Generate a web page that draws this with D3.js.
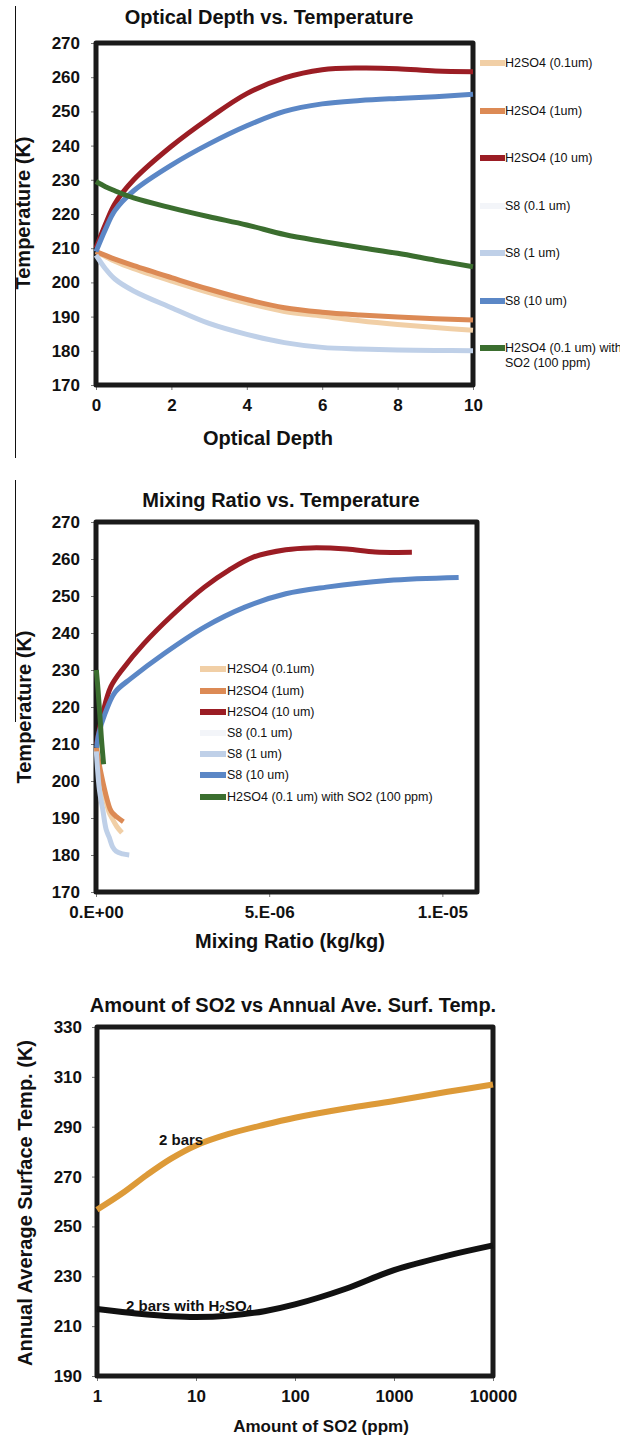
<!DOCTYPE html>
<html>
<head>
<meta charset="utf-8">
<script src="https://cdn.jsdelivr.net/npm/d3@7"></script>
<style>
body { margin: 0; background: #fff; }
svg text { font-family: "Liberation Sans", Arial, sans-serif; fill: #111; }
</style>
</head>
<body>
<svg id="chart" width="640" height="1438"></svg>
<script>
// series shared by the first two panels
var seriesNames = ['H2SO4 (0.1um)', 'H2SO4 (1um)', 'H2SO4 (10 um)', 'S8 (0.1 um)',
                   'S8 (1 um)', 'S8 (10 um)', 'H2SO4 (0.1 um) with SO2 (100 ppm)'];
var seriesColors = ['#f1cfa6', '#dc8a55', '#9b1d24', '#f3f5f9', '#bfd0e8', '#5b87c6', '#3b6e2f'];

// panel 1: optical depth vs temperature
var depth = [0, 0.25, 0.5, 1, 2, 3, 4, 5, 6, 7, 8, 9, 10];
var depthH2so4Small = [209, 207.6, 206.2, 204, 200.4, 197, 194, 191.5, 190.2, 188.8, 187.7, 186.8, 186];
var depthH2so4Mid = [209, 207.9, 206.8, 204.9, 201.4, 198, 195, 192.6, 191.3, 190.5, 189.9, 189.4, 189];
var depthH2so4Large = [210, 217, 223, 230, 239.8, 248, 255.2, 259.8, 262.2, 262.7, 262.5, 261.8, 261.6];
var depthS8Small = [];
var depthS8Mid = [208, 204, 201, 197.5, 192.6, 188, 184.8, 182.4, 181, 180.5, 180.2, 180.1, 180];
var depthS8Large = [209, 215.5, 221, 226.8, 234.3, 240.5, 245.8, 250, 252.2, 253.2, 253.8, 254.3, 255];
var depthSo2 = [229.5, 228, 226.8, 224.7, 221.8, 219.2, 216.8, 214, 212, 210.2, 208.5, 206.5, 204.6];
var depthTicks = [0, 2, 4, 6, 8, 10];
var tempTicks = [170, 180, 190, 200, 210, 220, 230, 240, 250, 260, 270];

// panel 2: mixing ratio vs temperature (kg/kg)
var mixH2so4SmallX = [1e-8, 7.5e-8, 1.5e-7, 2.3e-7, 3e-7, 3.8e-7, 4.5e-7, 6e-7, 7.5e-7];
var mixH2so4SmallT = [209, 204.3, 200.4, 197, 194, 191.5, 190.2, 187.7, 186];
var mixH2so4MidX = [1e-8, 8e-8, 1.6e-7, 2.4e-7, 3.2e-7, 4e-7, 4.8e-7, 6e-7, 7.9e-7];
var mixH2so4MidT = [209, 205.2, 201.4, 198, 195, 192.6, 191.3, 190.3, 189];
var mixH2so4LargeX = [2e-8, 2e-7, 4.3e-7, 7.9e-7, 1.37e-6, 2.2e-6, 3.13e-6, 3.84e-6, 4.54e-6, 5.48e-6, 6.2e-6, 7.24e-6, 8.06e-6, 9.12e-6];
var mixH2so4LargeT = [210, 218.5, 225.5, 230.5, 237, 244.8, 252.4, 257, 260.5, 262.5, 263, 262.7, 261.9, 261.8];
var mixS8SmallX = [];
var mixS8SmallT = [];
var mixS8MidX = [1e-8, 1e-7, 1.9e-7, 2.9e-7, 3.8e-7, 4.8e-7, 5.8e-7, 7.7e-7, 9.6e-7];
var mixS8MidT = [208, 197.5, 192.6, 187, 184.8, 182.2, 181, 180.3, 180];
var mixS8LargeX = [2e-8, 8e-8, 2.6e-7, 5.5e-7, 1.02e-6, 1.96e-6, 3.13e-6, 4.3e-6, 5.48e-6, 6.65e-6, 8.42e-6, 1.047e-5];
var mixS8LargeT = [209, 212.8, 218.2, 224, 227.8, 234.4, 241.6, 247, 250.6, 252.4, 254.2, 255];
var mixSo2X = [1e-8, 6e-8, 1.1e-7, 1.6e-7, 2.2e-7];
var mixSo2T = [230, 224.5, 218, 211, 204.5];
var mixTicks = [0, 5e-6, 1e-5];

// panel 3: SO2 amount vs annual average surface temperature
var so2Ppm = [1, 1.8, 3.2, 5.6, 10, 21, 49, 100, 326, 1000, 3470, 10000];
var surfTwoBar = [256.7, 263.3, 270.7, 277.2, 282.5, 287, 290.8, 293.6, 297.3, 300.3, 304, 306.9];
var surfTwoBarH2so4 = [216.9, 215.7, 214.7, 214, 213.7, 214.2, 216, 218.7, 225, 232.5, 238.3, 242.4];
var ppmTicks = [1, 10, 100, 1000, 10000];
var surfTicks = [190, 210, 230, 250, 270, 290, 310, 330];

var svg = d3.select('#chart');

// thin stray rule at the left edge of the scan
svg.append('line').attr('x1', 15.5).attr('x2', 15.5).attr('y1', 6).attr('y2', 458)
    .attr('stroke', '#111').attr('stroke-width', 1);
svg.append('line').attr('x1', 15.5).attr('x2', 15.5).attr('y1', 480).attr('y2', 722)
    .attr('stroke', '#111').attr('stroke-width', 1);

svg.append('clipPath').attr('id', 'legendClip')
    .append('rect').attr('x', 0).attr('y', 0).attr('width', 620).attr('height', 460);

function sciFormat(v) {
    if (v === 0) return '0.E+00';
    var e = Math.floor(Math.log10(v) + 1e-9);
    var m = Math.round(v / Math.pow(10, e));
    var a = Math.abs(e);
    return m + '.E' + (e < 0 ? '-' : '+') + (a < 10 ? '0' : '') + a;
}

function drawPanel(p) {
    var g = svg.append('g');

    g.append('text').attr('x', p.titleX).attr('y', p.titleY)
        .attr('text-anchor', 'middle').attr('font-size', 20).attr('font-weight', 'bold')
        .text(p.title);

    var yAxis = d3.axisLeft(p.y).tickValues(p.yTicks).tickSize(5).tickPadding(p.yPad || 11);
    var xAxis = d3.axisBottom(p.x).tickValues(p.xTicks).tickSize(5).tickPadding(9)
        .tickFormat(p.xFormat || d3.format('d'));

    var ya = g.append('g').attr('transform', 'translate(' + p.x.range()[0] + ',0)').call(yAxis);
    var xa = g.append('g').attr('transform', 'translate(0,' + p.y.range()[0] + ')').call(xAxis);
    [ya, xa].forEach(function(a) {
        a.select('.domain').remove();
        a.selectAll('line').attr('stroke', '#777');
        a.selectAll('text').attr('font-size', p.tickFont || 17).attr('font-weight', 'bold')
            .attr('fill', '#111').style('font-family', '"Liberation Sans", Arial, sans-serif');
    });

    g.append('text').attr('x', p.xTitleX).attr('y', p.xTitleY)
        .attr('text-anchor', 'middle').attr('font-size', p.xTitleFont || 20).attr('font-weight', 'bold')
        .text(p.xTitle);
    g.append('text')
        .attr('transform', 'translate(' + p.yTitleX + ',' + p.yTitleY + ') rotate(-90)')
        .attr('text-anchor', 'middle').attr('dy', '0.35em')
        .attr('font-size', 20).attr('font-weight', 'bold')
        .text(p.yTitle);

    var x0 = p.x.range()[0], x1 = p.x.range()[1];
    var y0 = p.y.range()[1], y1 = p.y.range()[0];
    g.append('rect').attr('x', x0).attr('y', y0)
        .attr('width', x1 - x0).attr('height', y1 - y0)
        .attr('fill', 'none').attr('stroke', '#1a1a1a').attr('stroke-width', 5)
        .attr('stroke-linejoin', 'round');

    return g;
}

function drawLines(g, x, y, series, width) {
    var line = d3.line()
        .x(function(d) { return x(d[0]); })
        .y(function(d) { return y(d[1]); })
        .curve(d3.curveCatmullRom.alpha(0.5));
    series.forEach(function(s) {
        if (!s.points.length) return;
        g.append('path').datum(s.points)
            .attr('d', line)
            .attr('fill', 'none')
            .attr('stroke', s.color)
            .attr('stroke-width', width);
    });
}

function zipPoints(xs, ys) {
    return xs.map(function(v, i) { return [v, ys[i]]; });
}

// ---- panel 1
var x1 = d3.scaleLinear().domain([0, 10]).range([96, 473]);
var y1 = d3.scaleLinear().domain([170, 270]).range([385, 43]);
var g1 = drawPanel({
    title: 'Optical Depth vs. Temperature', titleX: 269, titleY: 24,
    x: x1, y: y1, xTicks: depthTicks, yTicks: tempTicks,
    xTitle: 'Optical Depth', xTitleX: 268, xTitleY: 445,
    yTitle: 'Temperature (K)', yTitleX: 23, yTitleY: 213
});
var depthSeries = [depthH2so4Small, depthH2so4Mid, depthH2so4Large, depthS8Small,
                   depthS8Mid, depthS8Large, depthSo2];
drawLines(g1, x1, y1, depthSeries.map(function(t, i) {
    return {color: seriesColors[i], points: t.map(function(v, j) { return [depth[j], v]; })};
}), 5);

var legend1 = g1.append('g').attr('clip-path', 'url(#legendClip)');
var legend1Y = [63, 111, 158, 206, 253, 301, 348];
seriesNames.forEach(function(name, i) {
    var row = legend1.append('g').attr('transform', 'translate(480,' + legend1Y[i] + ')');
    row.append('line').attr('x1', 0).attr('x2', 25)
        .attr('stroke', seriesColors[i]).attr('stroke-width', 6);
    var t = row.append('text').attr('x', 25).attr('dy', '0.35em').attr('font-size', 12.5);
    if (i === 6) {
        t.append('tspan').attr('x', 25).text('H2SO4 (0.1 um) with');
        t.append('tspan').attr('x', 25).attr('dy', 14.5).text('SO2 (100 ppm)');
    } else {
        t.text(name);
    }
});

// ---- panel 2
var x2 = d3.scaleLinear().domain([0, 1.1e-5]).range([96, 477]);
var y2 = d3.scaleLinear().domain([170, 270]).range([892, 522]);
var g2 = drawPanel({
    title: 'Mixing Ratio vs. Temperature', titleX: 281, titleY: 507,
    x: x2, y: y2, xTicks: mixTicks, yTicks: tempTicks, xFormat: sciFormat,
    xTitle: 'Mixing Ratio (kg/kg)', xTitleX: 290, xTitleY: 948,
    yTitle: 'Temperature (K)', yTitleX: 24, yTitleY: 707
});
var mixSeries = [
    zipPoints(mixH2so4SmallX, mixH2so4SmallT),
    zipPoints(mixH2so4MidX, mixH2so4MidT),
    zipPoints(mixH2so4LargeX, mixH2so4LargeT),
    zipPoints(mixS8SmallX, mixS8SmallT),
    zipPoints(mixS8MidX, mixS8MidT),
    zipPoints(mixS8LargeX, mixS8LargeT),
    zipPoints(mixSo2X, mixSo2T)
];
drawLines(g2, x2, y2, mixSeries.map(function(pts, i) {
    return {color: seriesColors[i], points: pts};
}), 5);

var legend2Y = [669, 691, 712, 733, 754, 775, 797];
seriesNames.forEach(function(name, i) {
    var row = g2.append('g').attr('transform', 'translate(200,' + legend2Y[i] + ')');
    row.append('line').attr('x1', 0).attr('x2', 26)
        .attr('stroke', seriesColors[i]).attr('stroke-width', 6);
    row.append('text').attr('x', 27).attr('dy', '0.35em').attr('font-size', 12.5).text(name);
});

// ---- panel 3
var x3 = d3.scaleLog().domain([1, 10000]).range([97, 493]);
var y3 = d3.scaleLinear().domain([190, 330]).range([1376, 1027]);
var g3 = drawPanel({
    title: 'Amount of SO2 vs Annual Ave. Surf. Temp.', titleX: 293, titleY: 1012,
    x: x3, y: y3, xTicks: ppmTicks, yTicks: surfTicks, yPad: 10,
    xTitle: 'Amount of SO2 (ppm)', xTitleX: 321, xTitleY: 1432, xTitleFont: 17,
    yTitle: 'Annual Average Surface Temp. (K)', yTitleX: 25, yTitleY: 1203
});
drawLines(g3, x3, y3, [
    {color: '#dd9a38', points: zipPoints(so2Ppm, surfTwoBar)},
    {color: '#111111', points: zipPoints(so2Ppm, surfTwoBarH2so4)}
], 6);

g3.append('text').attr('x', 159).attr('y', 1145)
    .attr('font-size', 15).attr('font-weight', 'bold').attr('fill', '#222')
    .text('2 bars');
var lab = g3.append('text').attr('x', 126).attr('y', 1311)
    .attr('font-size', 15).attr('font-weight', 'bold').attr('fill', '#222');
lab.append('tspan').text('2 bars with H');
lab.append('tspan').attr('font-size', 10).attr('dy', 2).text('2');
lab.append('tspan').attr('dy', -2).text('SO');
lab.append('tspan').attr('font-size', 10).attr('dy', 2).text('4');
</script>
</body>
</html>
